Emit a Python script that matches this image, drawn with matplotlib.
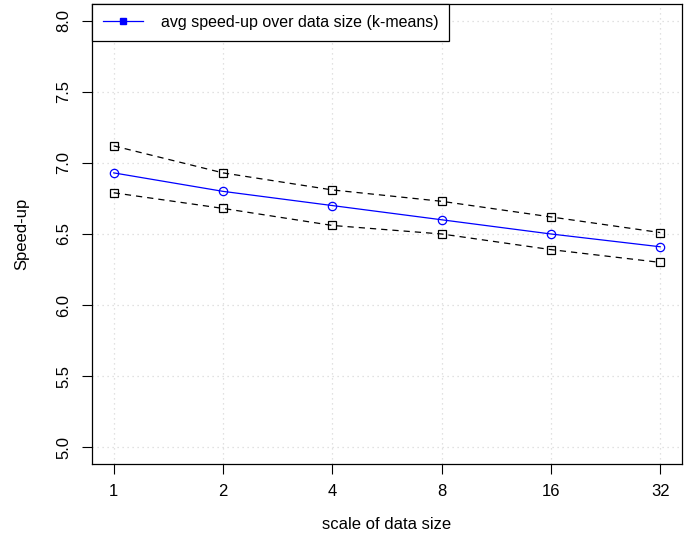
import numpy as np
import matplotlib.pyplot as plt
from matplotlib.lines import Line2D

# data scales and measured speed-ups
scales = [1, 2, 4, 8, 16, 32]
avg_speedup = [6.93, 6.80, 6.70, 6.60, 6.50, 6.41]
upper_bound = [7.12, 6.93, 6.81, 6.73, 6.62, 6.51]
lower_bound = [6.79, 6.68, 6.56, 6.50, 6.39, 6.30]
y_ticks = [5.0, 5.5, 6.0, 6.5, 7.0, 7.5, 8.0]

plt.rcParams["font.family"] = ["Liberation Sans", "DejaVu Sans"]
plt.rcParams["font.size"] = 12


def main():
    fig = plt.figure(figsize=(6.96, 5.41), dpi=100)
    ax = fig.add_axes([0.132, 0.142, 0.848, 0.851])

    pos = np.log2(scales)

    ax.plot(pos, upper_bound, color="black", lw=0.9, ls=(0, (5, 4)),
            marker="s", ms=5.5, mfc="none", mec="black", mew=0.9)
    ax.plot(pos, lower_bound, color="black", lw=0.9, ls=(0, (5, 4)),
            marker="s", ms=5.5, mfc="none", mec="black", mew=0.9)
    ax.plot(pos, avg_speedup, color="blue", lw=0.9,
            marker="o", ms=6, mfc="none", mec="blue", mew=0.9)

    ax.set_xlim(pos[0] - 0.2, pos[-1] + 0.2)
    ax.set_ylim(4.88, 8.12)
    ax.set_xticks(pos)
    ax.set_xticklabels([str(s) for s in scales])
    ax.set_yticks(y_ticks)
    ax.set_yticklabels([f"{v:.1f}" for v in y_ticks], rotation=90, va="center")

    ax.tick_params(direction="out", length=7, width=0.8, labelsize=12)
    ax.tick_params(axis="x", pad=7)
    ax.tick_params(axis="y", pad=8)
    ax.grid(True, color="#d8d8d8", ls=(0, (1, 3)), lw=0.9)
    for sp in ax.spines.values():
        sp.set_linewidth(0.9)

    ax.set_xlabel("scale of data size", labelpad=13)
    ax.set_ylabel("Speed-up", labelpad=19)

    handle = Line2D([], [], color="blue", lw=0.9, marker="s", ms=5,
                    mfc="blue", mec="blue")
    leg = ax.legend([handle], ["avg speed-up over data size (k-means)"],
                    loc="upper left", borderaxespad=0, fancybox=False,
                    framealpha=1, edgecolor="black", handlelength=2.5,
                    handletextpad=1.1, borderpad=0.7, fontsize=11.5)
    leg.get_frame().set_linewidth(0.9)

    fig.savefig("out.png", dpi=100)
    plt.close(fig)


if __name__ == "__main__":
    main()
